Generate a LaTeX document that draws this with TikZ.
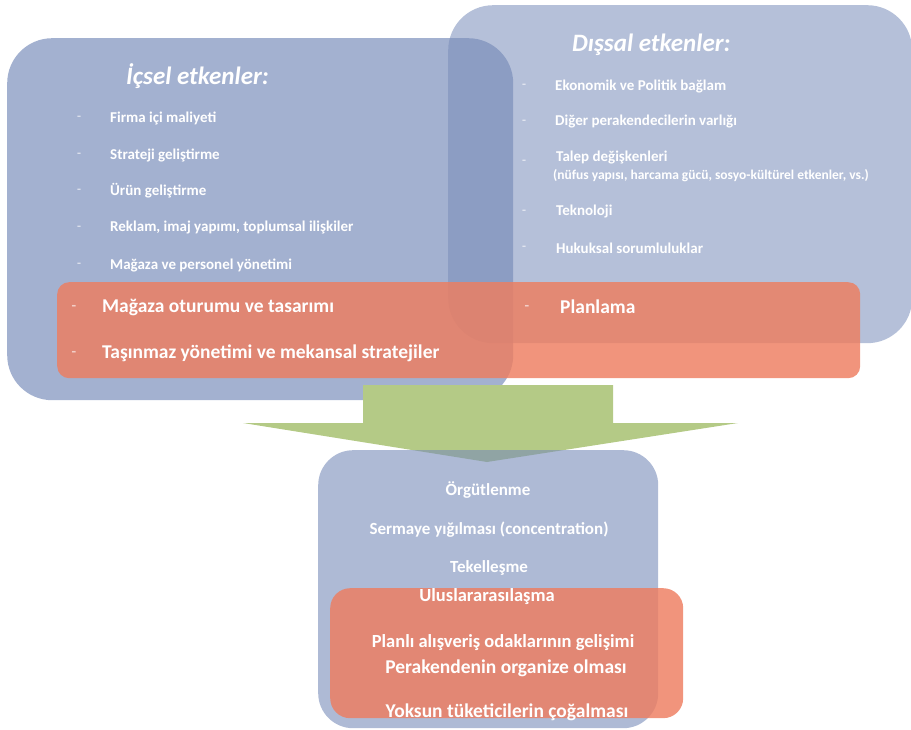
\documentclass[tikz,border=0pt]{standalone}
\usepackage{fontspec}
\setmainfont{Carlito}
\definecolor{panelblue}{RGB}{120,140,185}
\definecolor{bandred}{RGB}{238,125,95}
\definecolor{arrowgreen}{RGB}{180,202,134}
\tikzset{
  panel/.style={draw=none, fill=panelblue, rounded corners=#1, anchor=north west, inner sep=0pt},
  band/.style={draw=none, fill=bandred, fill opacity=0.82, rounded corners=#1, anchor=north west, inner sep=0pt},
  heading/.style={text=white, font=\bfseries\itshape\fontsize{25}{28}\selectfont, anchor=west, inner sep=0pt},
  item/.style={text=white, font=\bfseries\fontsize{15}{17}\selectfont, anchor=west, inner sep=0pt},
  smallitem/.style={text=white, font=\bfseries\fontsize{13.5}{15}\selectfont, anchor=west, inner sep=0pt},
  bullet/.style={text=white, text opacity=0.6, font=\bfseries\fontsize{13}{15}\selectfont, inner sep=0pt},
  biggitem/.style={text=white, font=\bfseries\fontsize{19.5}{22}\selectfont, anchor=west, inner sep=0pt},
  bigbullet/.style={text=white, text opacity=0.6, font=\bfseries\fontsize{15}{17}\selectfont, inner sep=0pt},
  outcome/.style={text=white, font=\bfseries\fontsize{17}{20}\selectfont, inner sep=0pt},
  outcomebig/.style={text=white, font=\bfseries\fontsize{18.5}{21}\selectfont, inner sep=0pt},
  outcomebigger/.style={text=white, font=\bfseries\fontsize{19.5}{22}\selectfont, inner sep=0pt}
}
\begin{document}
\begin{tikzpicture}[x=1pt,y=-1pt]
\useasboundingbox (0,0) rectangle (911,730);

% internal and external factor panels
\node[panel=45pt, fill opacity=0.68, minimum width=506pt, minimum height=362pt] (internal) at (7,38) {};
\node[panel=45pt, fill opacity=0.55, minimum width=464pt, minimum height=338pt] (external) at (448,5) {};

% shared strip across both panels
\node[band=12pt, minimum width=803pt, minimum height=96pt] (strip) at (57,282) {};

% internal factors
\node[heading] (intitle) at (126,76) {İçsel etkenler:};
\foreach \y/\t [count=\i] in {118/Firma içi maliyeti, 155/Strateji geliştirme, 191/Ürün geliştirme, 228/{Reklam, imaj yapımı, toplumsal ilişkiler}, 265/Mağaza ve personel yönetimi}{
  \node[bullet] (ib\i) at (79,\y) {-};
  \node[item] (it\i) at (110,\y) {\t};
}

% external factors
\node[heading] (exttitle) at (572,45) {Dışsal etkenler:};
\node[bullet] (eb1) at (524,86) {-};
\node[item] (et1) at (555,86) {Ekonomik ve Politik bağlam};
\node[bullet] (eb2) at (524,122) {-};
\node[item] (et2) at (555,122) {Diğer perakendecilerin varlığı};
\node[bullet] (eb3) at (524,162) {-};
\node[item] (et3) at (556,158) {Talep değişkenleri};
\node[smallitem] (et3b) at (553,176) {(nüfus yapısı, harcama gücü, sosyo-kültürel etkenler, vs.)};
\node[bullet] (eb4) at (524,212) {-};
\node[item] (et4) at (556,212) {Teknoloji};
\node[bullet] (eb5) at (524,248) {-};
\node[item] (et5) at (556,248) {Hukuksal sorumluluklar};

% strip items
\node[bigbullet] (sb1) at (74,308) {-};
\node[biggitem] (st1) at (102,307) {Mağaza oturumu ve tasarımı};
\node[bigbullet] (sb2) at (74,354) {-};
\node[biggitem] (st2) at (102,353) {Taşınmaz yönetimi ve mekansal stratejiler};
\node[bigbullet] (sb3) at (527,308) {-};
\node[biggitem] (st3) at (560,307) {Planlama};

% block arrow pointing down
\path[fill=arrowgreen] (363,385) -- (613,385) -- (613,423) -- (738,423)
  -- (487,462) -- (243,423) -- (363,423) -- cycle;

% results panel
\node[panel=35pt, fill opacity=0.6, minimum width=340pt, minimum height=278pt] (results) at (318,450) {};
\node[band=20pt, minimum width=353pt, minimum height=130pt] (resultband) at (330,588) {};

\node[outcome] (r1) at (488,490) {Örgütlenme};
\node[outcome] (r2) at (489,530) {Sermaye yığılması (concentration)};
\node[outcome] (r3) at (489,568) {Tekelleşme};
\node[outcomebig] (r4) at (487,597) {Uluslararasılaşma};
\node[outcomebig] (r5) at (503,643) {Planlı alışveriş odaklarının gelişimi};
\node[outcomebigger] (r6) at (506,668) {Perakendenin organize olması};
\node[outcomebigger] (r7) at (507,712) {Yoksun tüketicilerin çoğalması};
\end{tikzpicture}
\end{document}
